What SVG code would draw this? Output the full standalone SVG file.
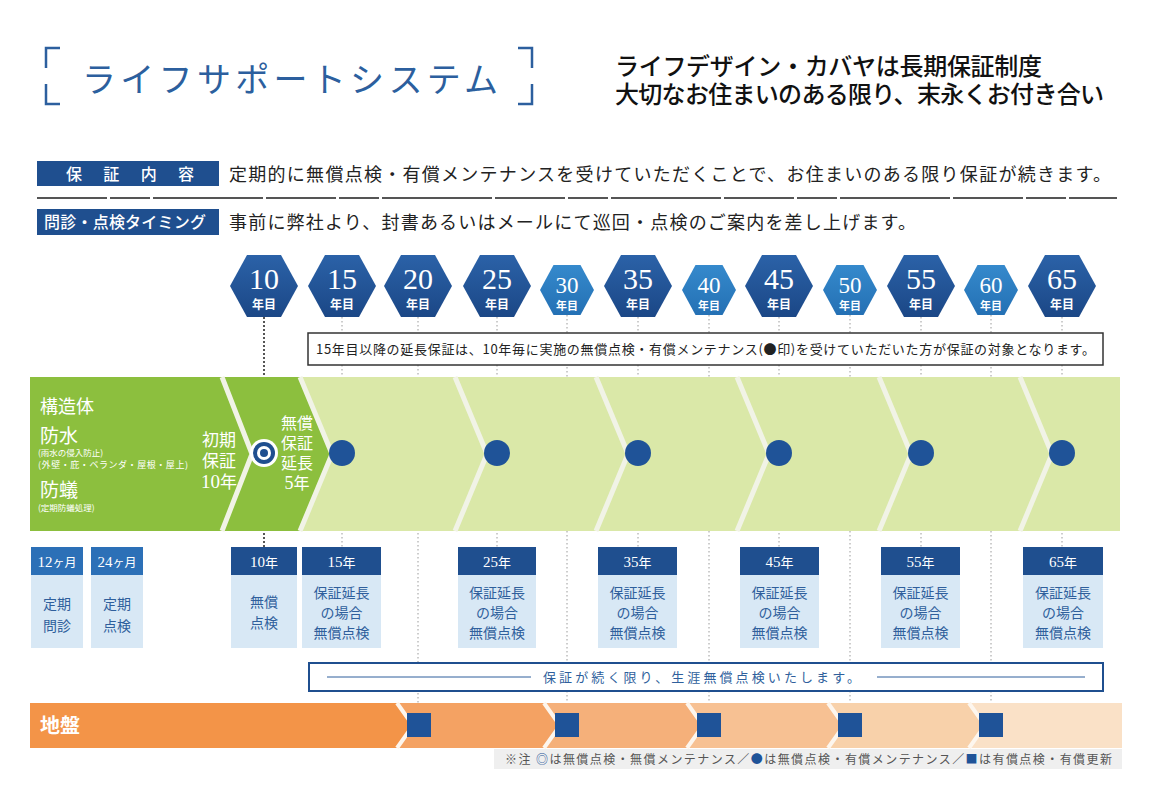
<svg xmlns="http://www.w3.org/2000/svg" width="1156" height="800" viewBox="0 0 1156 800">
<defs>
<style>
.jp{font-family:"Noto Sans CJK JP","Noto Sans",sans-serif}
.dot{stroke:#9a9a9a;stroke-width:1;stroke-dasharray:1.5 2.5;fill:none}
.hnum{font-family:"Liberation Serif","Noto Sans CJK JP",serif;fill:#fff;text-anchor:middle}
.hyr{font-family:"Noto Sans CJK JP",sans-serif;font-weight:700;fill:#fff;text-anchor:middle}
.stripe{fill:none;stroke:#f1f3e6;stroke-width:5}
.ostripe{fill:none;stroke:#fdf6ee;stroke-width:4}
.bdot{fill:#1f5398}
.sq{fill:#1f5398}
.hdr{fill:#1f4f8f}
.hdr2{fill:#2c70b7}
.body{fill:#d8e8f5}
.htxt{font-family:"Liberation Serif","Noto Sans CJK JP",serif;fill:#fff;font-size:15px;text-anchor:middle}
.btxt{font-family:"Noto Sans CJK JP",sans-serif;fill:#2f5f9c;font-size:14px;text-anchor:middle}
.wt{font-family:"Noto Sans CJK JP",sans-serif;fill:#fff}
</style>
<linearGradient id="gL" x1="0" y1="0" x2="0" y2="1"><stop offset="0" stop-color="#2b62a8"/><stop offset="1" stop-color="#1b4786"/></linearGradient>
<linearGradient id="gS" x1="0" y1="0" x2="0" y2="1"><stop offset="0" stop-color="#3589cc"/><stop offset="1" stop-color="#2470b4"/></linearGradient>
<polygon id="hexL" points="-34,0 -17,-31 17,-31 34,0 17,31 -17,31" fill="url(#gL)"/>
<polygon id="hexS" points="-27,0 -13.5,-25 13.5,-25 27,0 13.5,25 -13.5,25" fill="url(#gS)"/>
</defs>
<rect width="1156" height="800" fill="#fff"/>

<g id="title">
<path d="M60,48 H46 V68 M46,84 V104 H60 M518,48 H532 V68 M532,84 V104 H518" fill="none" stroke="#2c5f9e" stroke-width="2.5"/>
<text x="82" y="92" class="jp" font-size="34" fill="#2c5f9e" textLength="416" lengthAdjust="spacing">ライフサポートシステム</text>
</g>
<g id="subtitle">
<text x="615" y="75" class="jp" font-size="24" font-weight="500" fill="#111" textLength="427" lengthAdjust="spacing">ライフデザイン・カバヤは長期保証制度</text>
<text x="615" y="103" class="jp" font-size="24" font-weight="500" fill="#111" textLength="489" lengthAdjust="spacing">大切なお住まいのある限り、末永くお付き合い</text>
</g>

<g id="row-hosho">
<rect x="37" y="161" width="182" height="25" fill="#1f4f8f"/>
<text x="66" y="180" class="wt" font-size="16" font-weight="500" textLength="128" lengthAdjust="spacing">保証内容</text>
<text x="229" y="181" class="jp" font-size="18" fill="#222" textLength="882" lengthAdjust="spacing">定期的に無償点検・有償メンテナンスを受けていただくことで、お住まいのある限り保証が続きます。</text>
</g>
<line x1="37" y1="198" x2="1117" y2="198" stroke="#555" stroke-width="2" stroke-dasharray="70 3 40 3 110 3"/>
<g id="row-timing">
<rect x="37" y="209" width="182" height="26" fill="#1f4f8f"/>
<text x="44" y="228" class="wt" font-size="16" font-weight="500" textLength="162" lengthAdjust="spacing">問診・点検タイミング</text>
<text x="229" y="229" class="jp" font-size="18" fill="#222" textLength="687" lengthAdjust="spacing">事前に弊社より、封書あるいはメールにて巡回・点検のご案内を差し上げます。</text>
</g>

<g id="connectors">
<line x1="264" y1="317" x2="264" y2="547" stroke="#555" stroke-width="2" stroke-dasharray="2 2"/>
<line class="dot" x1="342" y1="317" x2="342" y2="547"/>
<line class="dot" x1="418" y1="317" x2="418" y2="713"/>
<line class="dot" x1="497" y1="317" x2="497" y2="547"/>
<line class="dot" x1="567" y1="315" x2="567" y2="713"/>
<line class="dot" x1="638" y1="317" x2="638" y2="547"/>
<line class="dot" x1="709" y1="315" x2="709" y2="713"/>
<line class="dot" x1="779" y1="317" x2="779" y2="547"/>
<line class="dot" x1="850" y1="315" x2="850" y2="713"/>
<line class="dot" x1="921" y1="317" x2="921" y2="547"/>
<line class="dot" x1="991" y1="315" x2="991" y2="713"/>
<line class="dot" x1="1062" y1="317" x2="1062" y2="547"/>
</g>

<g id="hexagons">
<g id="y10"><use href="#hexL" x="264" y="286"/><text class="hnum" x="264" y="289" font-size="30">10</text><text class="hyr" x="264" y="309" font-size="12">年目</text></g>
<g id="y15"><use href="#hexL" x="342" y="286"/><text class="hnum" x="342" y="289" font-size="30">15</text><text class="hyr" x="342" y="309" font-size="12">年目</text></g>
<g id="y20"><use href="#hexL" x="418" y="286"/><text class="hnum" x="418" y="289" font-size="30">20</text><text class="hyr" x="418" y="309" font-size="12">年目</text></g>
<g id="y25"><use href="#hexL" x="497" y="286"/><text class="hnum" x="497" y="289" font-size="30">25</text><text class="hyr" x="497" y="309" font-size="12">年目</text></g>
<g id="y30"><use href="#hexS" x="567" y="290"/><text class="hnum" x="567" y="293" font-size="23">30</text><text class="hyr" x="567" y="310" font-size="11">年目</text></g>
<g id="y35"><use href="#hexL" x="638" y="286"/><text class="hnum" x="638" y="289" font-size="30">35</text><text class="hyr" x="638" y="309" font-size="12">年目</text></g>
<g id="y40"><use href="#hexS" x="709" y="290"/><text class="hnum" x="709" y="293" font-size="23">40</text><text class="hyr" x="709" y="310" font-size="11">年目</text></g>
<g id="y45"><use href="#hexL" x="779" y="286"/><text class="hnum" x="779" y="289" font-size="30">45</text><text class="hyr" x="779" y="309" font-size="12">年目</text></g>
<g id="y50"><use href="#hexS" x="850" y="290"/><text class="hnum" x="850" y="293" font-size="23">50</text><text class="hyr" x="850" y="310" font-size="11">年目</text></g>
<g id="y55"><use href="#hexL" x="921" y="286"/><text class="hnum" x="921" y="289" font-size="30">55</text><text class="hyr" x="921" y="309" font-size="12">年目</text></g>
<g id="y60"><use href="#hexS" x="991" y="290"/><text class="hnum" x="991" y="293" font-size="23">60</text><text class="hyr" x="991" y="310" font-size="11">年目</text></g>
<g id="y65"><use href="#hexL" x="1062" y="286"/><text class="hnum" x="1062" y="289" font-size="30">65</text><text class="hyr" x="1062" y="309" font-size="12">年目</text></g>
</g>

<g id="note-box">
<rect x="308" y="333" width="795" height="32" fill="#fff" stroke="#333" stroke-width="1.5"/>
<text x="316" y="354" class="jp" font-size="13" fill="#222" textLength="779" lengthAdjust="spacing">15年目以降の延長保証は、10年毎に実施の無償点検・有償メンテナンス(●印)を受けていただいた方が保証の対象となります。</text>
</g>

<g id="structure-band">
<rect x="30" y="377" width="1090" height="154" fill="#dae8a8"/>
<polygon points="30,377 300,377 332,454 300,531 30,531" fill="#8cbf3e"/>
<polyline class="stripe" points="222,377 252,454 222,531"/>
<polyline class="stripe" points="300,377 332,454 300,531"/>
<polyline class="stripe" points="455,377 487,454 455,531"/>
<polyline class="stripe" points="596,377 628,454 596,531"/>
<polyline class="stripe" points="737,377 769,454 737,531"/>
<polyline class="stripe" points="879,377 911,454 879,531"/>
<polyline class="stripe" points="1020,377 1052,454 1020,531"/>
<text x="40" y="413" class="wt" font-size="18">構造体</text>
<text x="40" y="443" class="wt" font-size="19">防水</text>
<text x="38" y="456" class="wt" font-size="8.5">(雨水の侵入防止)</text>
<text x="38" y="468" class="wt" font-size="9" textLength="150" lengthAdjust="spacing">(外壁・庇・ベランダ・屋根・屋上)</text>
<text x="40" y="497" class="wt" font-size="19">防蟻</text>
<text x="38" y="511" class="wt" font-size="8.5">(定期防蟻処理)</text>
<g text-anchor="middle" font-size="17">
<text x="219" y="446" class="wt">初期</text>
<text x="219" y="467" class="wt">保証</text>
<text x="219" y="488" class="wt"><tspan font-family="Liberation Serif" font-size="19">10</tspan>年</text>
<text x="297" y="429" class="wt" font-size="16">無償</text>
<text x="297" y="449" class="wt" font-size="16">保証</text>
<text x="297" y="469" class="wt" font-size="16">延長</text>
<text x="297" y="489" class="wt" font-size="16"><tspan font-family="Liberation Serif" font-size="18">5</tspan>年</text>
</g>
<g id="mark-double">
<circle cx="264" cy="453" r="14" fill="#fff"/>
<circle cx="264" cy="453" r="11" fill="#1f4f8f"/>
<circle cx="264" cy="453" r="7" fill="#fff"/>
<circle cx="264" cy="453" r="4" fill="#1f4f8f"/>
</g>
<circle class="bdot" cx="342" cy="453" r="13"/>
<circle class="bdot" cx="497" cy="453" r="13"/>
<circle class="bdot" cx="638" cy="453" r="13"/>
<circle class="bdot" cx="779" cy="453" r="13"/>
<circle class="bdot" cx="921" cy="453" r="13"/>
<circle class="bdot" cx="1062" cy="453" r="13"/>
</g>

<g id="box-12m"><rect class="hdr2" x="31" y="547" width="52" height="28"/><rect class="body" x="31" y="575" width="52" height="73"/><text class="htxt" x="57" y="567">12<tspan font-size="12">ヶ月</tspan></text><text class="btxt" x="57" y="609">定期</text><text class="btxt" x="57" y="631">問診</text></g>
<g id="box-24m"><rect class="hdr2" x="91" y="547" width="52" height="28"/><rect class="body" x="91" y="575" width="52" height="73"/><text class="htxt" x="117" y="567">24<tspan font-size="12">ヶ月</tspan></text><text class="btxt" x="117" y="609">定期</text><text class="btxt" x="117" y="631">点検</text></g>
<g id="box-10y"><rect class="hdr" x="231" y="547" width="66" height="28"/><rect class="body" x="231" y="575" width="66" height="73"/><text class="htxt" x="264" y="567">10<tspan font-size="13">年</tspan></text><text class="btxt" x="264" y="607">無償</text><text class="btxt" x="264" y="628">点検</text></g>
<g id="box-15y"><rect class="hdr" x="302" y="547" width="79" height="28"/><rect class="body" x="302" y="575" width="79" height="73"/><text class="htxt" x="341.5" y="567">15<tspan font-size="13">年</tspan></text><text class="btxt" x="341.5" y="598">保証延長</text><text class="btxt" x="341.5" y="618">の場合</text><text class="btxt" x="341.5" y="638">無償点検</text></g>
<g id="box-25y"><rect class="hdr" x="458" y="547" width="78" height="28"/><rect class="body" x="458" y="575" width="78" height="73"/><text class="htxt" x="497" y="567">25<tspan font-size="13">年</tspan></text><text class="btxt" x="497" y="598">保証延長</text><text class="btxt" x="497" y="618">の場合</text><text class="btxt" x="497" y="638">無償点検</text></g>
<g id="box-35y"><rect class="hdr" x="598" y="547" width="79" height="28"/><rect class="body" x="598" y="575" width="79" height="73"/><text class="htxt" x="637.5" y="567">35<tspan font-size="13">年</tspan></text><text class="btxt" x="637.5" y="598">保証延長</text><text class="btxt" x="637.5" y="618">の場合</text><text class="btxt" x="637.5" y="638">無償点検</text></g>
<g id="box-45y"><rect class="hdr" x="740" y="547" width="79" height="28"/><rect class="body" x="740" y="575" width="79" height="73"/><text class="htxt" x="779.5" y="567">45<tspan font-size="13">年</tspan></text><text class="btxt" x="779.5" y="598">保証延長</text><text class="btxt" x="779.5" y="618">の場合</text><text class="btxt" x="779.5" y="638">無償点検</text></g>
<g id="box-55y"><rect class="hdr" x="881" y="547" width="79" height="28"/><rect class="body" x="881" y="575" width="79" height="73"/><text class="htxt" x="920.5" y="567">55<tspan font-size="13">年</tspan></text><text class="btxt" x="920.5" y="598">保証延長</text><text class="btxt" x="920.5" y="618">の場合</text><text class="btxt" x="920.5" y="638">無償点検</text></g>
<g id="box-65y"><rect class="hdr" x="1023" y="547" width="80" height="28"/><rect class="body" x="1023" y="575" width="80" height="73"/><text class="htxt" x="1063" y="567">65<tspan font-size="13">年</tspan></text><text class="btxt" x="1063" y="598">保証延長</text><text class="btxt" x="1063" y="618">の場合</text><text class="btxt" x="1063" y="638">無償点検</text></g>

<g id="lifetime-box">
<rect x="309" y="663" width="794" height="28" fill="#fff" stroke="#1f4f8f" stroke-width="2"/>
<line x1="327" y1="677" x2="531" y2="677" stroke="#2f5f9c" stroke-width="1"/>
<line x1="877" y1="677" x2="1085" y2="677" stroke="#2f5f9c" stroke-width="1"/>
<text x="543" y="682" class="jp" font-size="13" fill="#2f5f9c" textLength="317" lengthAdjust="spacing">保証が続く限り、生涯無償点検いたします。</text>
</g>

<g id="ground-band">
<rect x="30" y="703" width="1092" height="45" fill="#fae1c7"/>
<polygon points="30,703 969,703 985,725.5 969,748 30,748" fill="#f8d1aa"/>
<polygon points="30,703 828,703 844,725.5 828,748 30,748" fill="#f7c193"/>
<polygon points="30,703 687,703 703,725.5 687,748 30,748" fill="#f5b07a"/>
<polygon points="30,703 544,703 560,725.5 544,748 30,748" fill="#f4a263"/>
<polygon points="30,703 397,703 413,725.5 397,748 30,748" fill="#f39448"/>
<polyline class="ostripe" points="397,703 413,725.5 397,748"/>
<polyline class="ostripe" points="544,703 560,725.5 544,748"/>
<polyline class="ostripe" points="687,703 703,725.5 687,748"/>
<polyline class="ostripe" points="828,703 844,725.5 828,748"/>
<polyline class="ostripe" points="969,703 985,725.5 969,748"/>
<rect class="sq" x="407" y="713" width="24" height="24"/>
<rect class="sq" x="555" y="713" width="24" height="24"/>
<rect class="sq" x="697" y="713" width="24" height="24"/>
<rect class="sq" x="838" y="713" width="24" height="24"/>
<rect class="sq" x="979" y="713" width="24" height="24"/>
<text x="40" y="733" class="wt" font-size="20" font-weight="700">地盤</text>
</g>

<g id="legend">
<rect x="494" y="749" width="628" height="20" fill="#efefef"/>
<text x="505" y="764" class="jp" font-size="12" fill="#555" textLength="607" lengthAdjust="spacing">※注 <tspan fill="#1f5398">◎</tspan>は無償点検・無償メンテナンス／<tspan fill="#1f5398">●</tspan>は無償点検・有償メンテナンス／<tspan fill="#1f5398">■</tspan>は有償点検・有償更新</text>
</g>
</svg>
